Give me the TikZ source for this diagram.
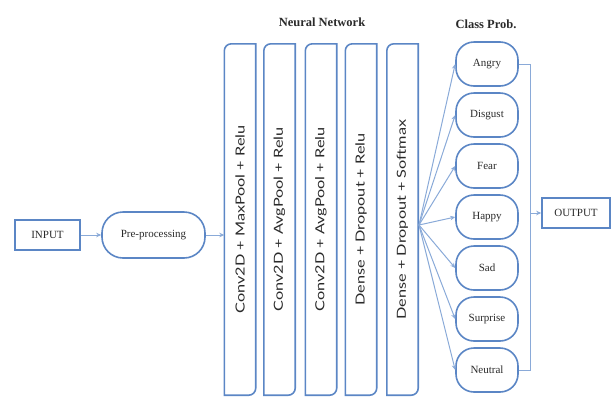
\documentclass[tikz,border=0pt]{standalone}
\usepackage{fontspec}
\setmainfont{Liberation Serif}
\newfontfamily\layerfont{Lato}
\usetikzlibrary{arrows.meta}
\definecolor{boxblue}{HTML}{5B86C5}
\definecolor{lineblue}{HTML}{8AAAD8}
\definecolor{txt}{HTML}{2A2A2A}
\tikzset{
  boxline/.style={draw=boxblue, line width=1.6pt},
  plainbox/.style={boxline, rectangle, fill=white, text=txt, font=\fontsize{11}{13}\selectfont, inner sep=0pt},
  roundbox/.style={plainbox, rounded corners=18pt},
  layerbox/.style={rectangle, draw=none, minimum width=31pt, minimum height=351pt, inner sep=0pt},
  layertext/.style={text=txt, font=\layerfont\fontsize{12.5}{15}\selectfont, rotate=90, inner sep=0pt},
  conn/.style={draw=lineblue, line width=1pt},
  arr/.style={conn, -{Stealth[length=5pt,width=4.5pt]}},
  title/.style={text=txt, font=\bfseries\fontsize{12.5}{14}\selectfont}
}
\begin{document}
\begin{tikzpicture}[x=1pt,y=-1pt]
\useasboundingbox (0,0) rectangle (612,397);

\node[plainbox, minimum width=65pt, minimum height=30pt] (input) at (47.5,235) {INPUT};
\node[roundbox, minimum width=103pt, minimum height=46pt, rounded corners=21pt] (pre) at (153.5,235) {Pre-processing};

\node[title] (nn) at (322,22) {Neural Network};
\node[title] (cp) at (486,24) {Class Prob.};

\foreach \n/\x/\t in {L1/240/{Conv2D + MaxPool + Relu},
                      L2/279.5/{Conv2D + AvgPool + Relu},
                      L3/321/{Conv2D + AvgPool + Relu},
                      L4/361/{Dense + Dropout + Relu},
                      L5/402.5/{Dense + Dropout + Softmax}}{
  \node[layerbox] (\n) at (\x,219.5) {};
  \draw[boxline] (\n.south west) -- ([yshift=-7pt]\n.north west)
     arc[start angle=180,end angle=90,radius=7pt] -- (\n.north east)
     -- ([yshift=7pt]\n.south east)
     arc[start angle=0,end angle=-90,radius=7pt] -- cycle;
  \node[layertext] at (\n.center) {\scalebox{1.3}[1]{\t}};
}

\foreach \n/\k in {Angry/0,Disgust/1,Fear/2,Happy/3,Sad/4,Surprise/5,Neutral/6}{
  \node[roundbox, minimum width=62pt, minimum height=44pt] (\n) at (487,{64+51*\k}) {\n};
}

\node[plainbox, minimum width=68pt, minimum height=30pt] (output) at (576,213) {OUTPUT};

\coordinate (fan) at (419,225);
\coordinate (br) at (530,213);

\draw[arr] (input) -- (pre);
\draw[arr] (pre.east) -- (pre.east -| L1.west);

\foreach \n in {Angry,Disgust,Fear,Happy,Sad,Surprise,Neutral}{
  \draw[arr] (fan) -- (\n.west);
}
\draw[conn] (Angry.east) -| (br);
\draw[conn] (Neutral.east) -| (br);
\draw[arr] (br) -- (output.west);
\end{tikzpicture}
\end{document}
